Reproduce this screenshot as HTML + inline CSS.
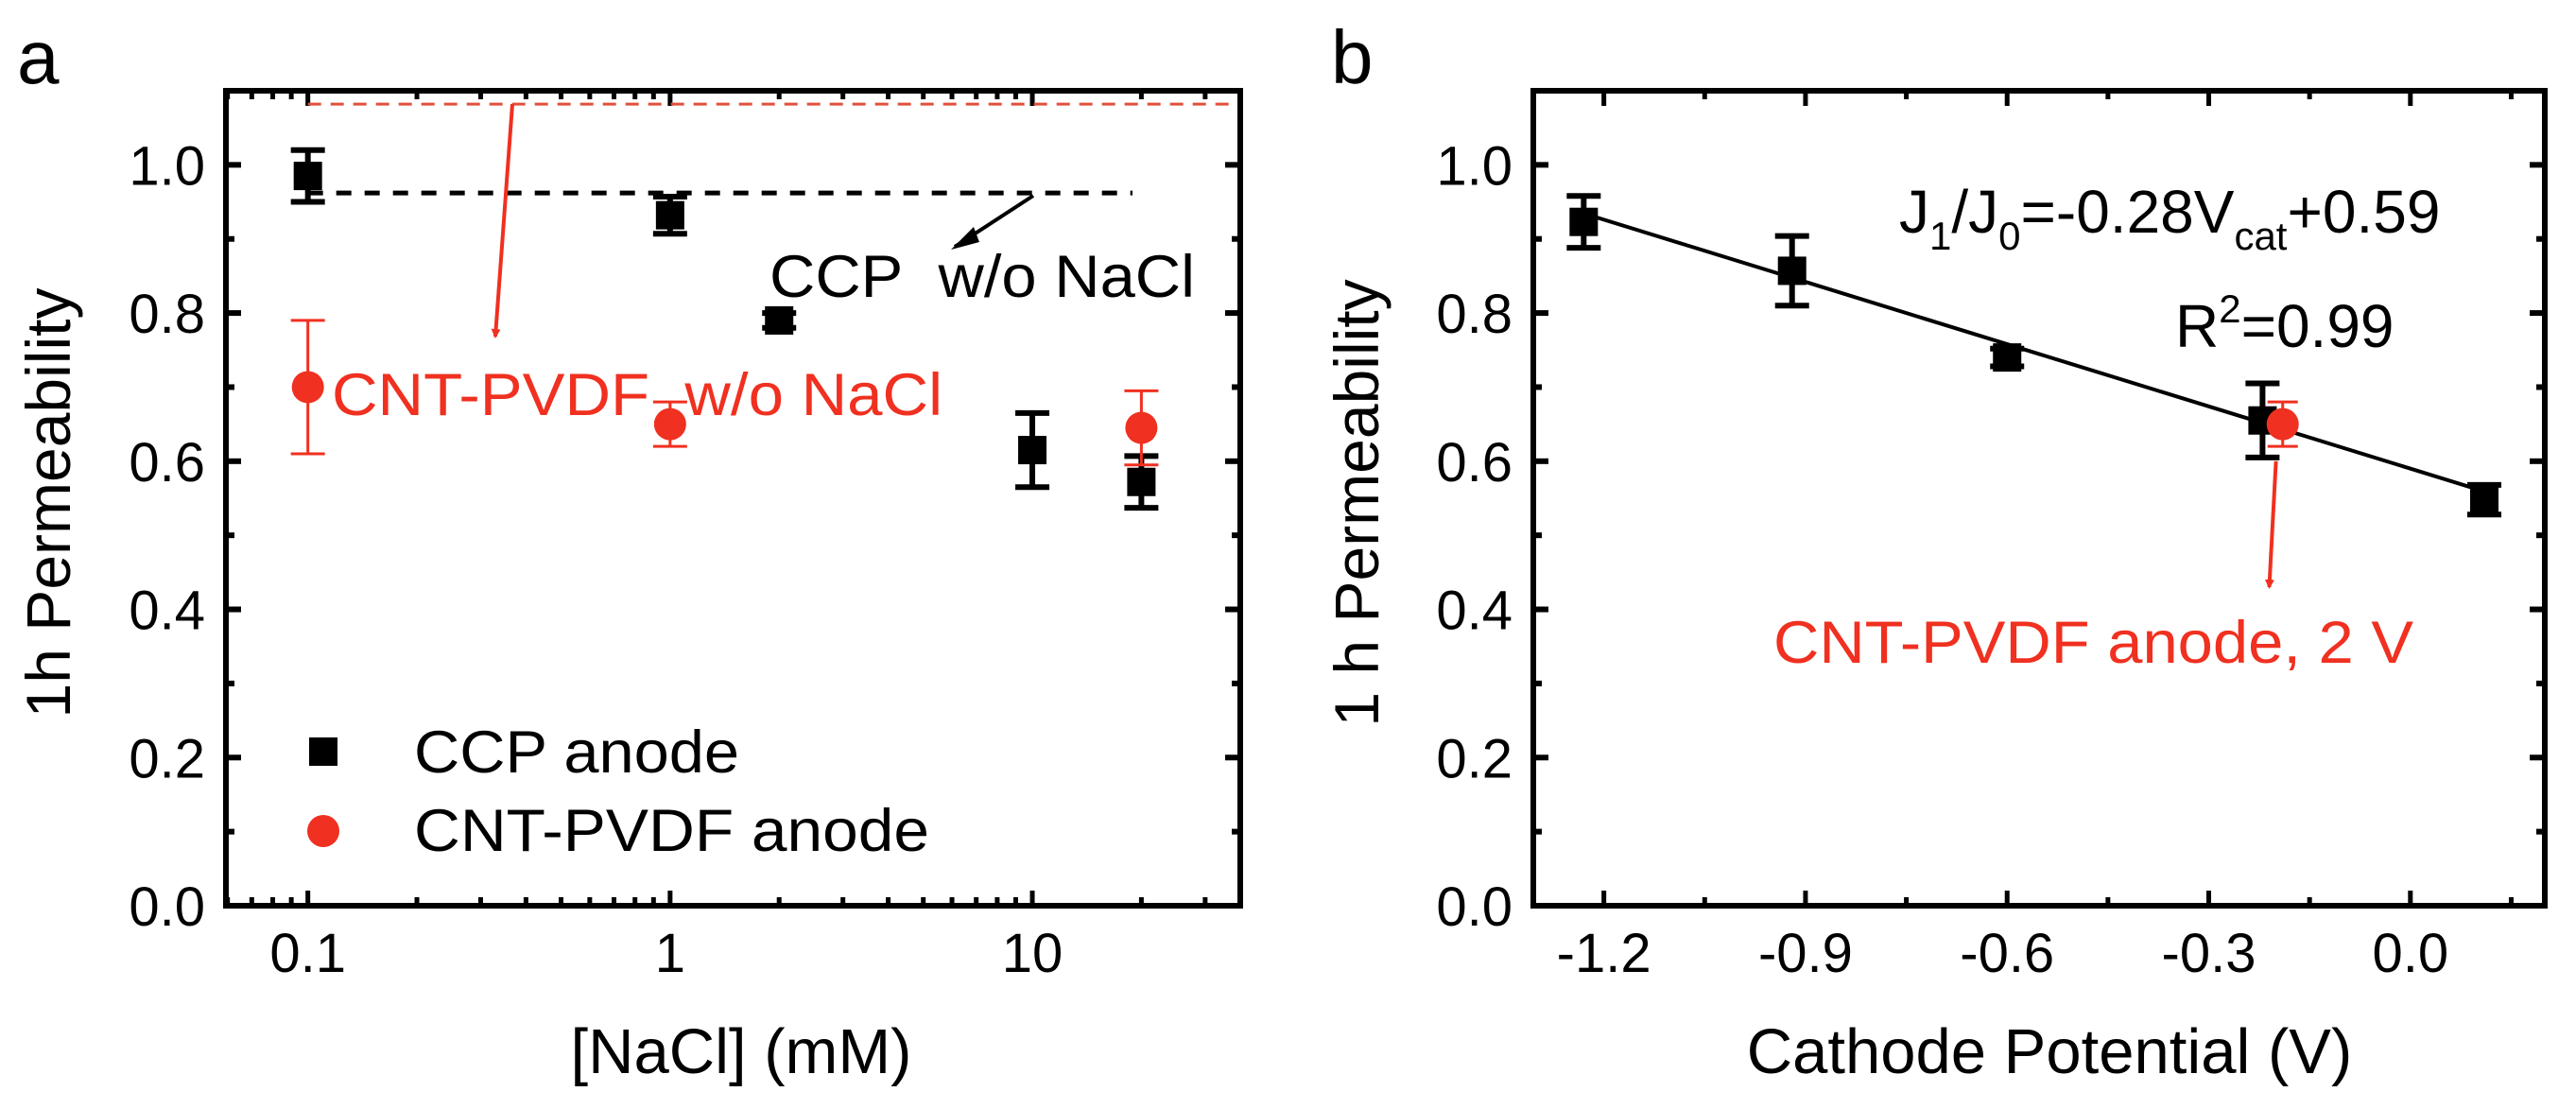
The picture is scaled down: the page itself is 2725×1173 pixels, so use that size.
<!DOCTYPE html>
<html><head><meta charset="utf-8"><style>
html,body{margin:0;padding:0;background:#fff;}
svg{display:block;font-family:"Liberation Sans",Arial,sans-serif;}
</style></head><body>
<svg id="fig" width="2725" height="1173" viewBox="0 0 2725 1173" xmlns="http://www.w3.org/2000/svg">
<defs>
<marker id="arrR" markerWidth="10" markerHeight="10" refX="8" refY="5" orient="auto" markerUnits="userSpaceOnUse" viewBox="0 0 10 10"><path d="M0,0 L10,5 L0,10 z" fill="#f03020"/></marker>
</defs>
<text x="18" y="88" font-size="80">a</text>
<text x="1408" y="88" font-size="80">b</text>
</svg>
<script>
// Panel a data
const aCcpX=[0.1,1,2,10,20];
const aCcpY=[0.985,0.932,0.79,0.615,0.572];
const aCcpErr=[0.035,0.025,0.01,0.05,0.035];
const aCntX=[0.1,1,20];
const aCntY=[0.70,0.65,0.645];
const aCntErr=[0.09,0.03,0.05];
const aXTicks=[0.1,1,10];
const aXTickLabels=["0.1","1","10"];
const yTicks=[0,0.2,0.4,0.6,0.8,1.0];
const yTickLabels=["0.0","0.2","0.4","0.6","0.8","1.0"];
const aCcpRef=0.962;
const aCntRef=1.082;
// Panel b data
const bCcpX=[-1.23,-0.92,-0.60,-0.22,0.11];
const bCcpY=[0.923,0.857,0.74,0.655,0.548];
const bCcpErr=[0.035,0.047,0.012,0.05,0.02];
const bCntX=[-0.19];
const bCntY=[0.65];
const bCntErr=[0.03];
const bXTicks=[-1.2,-0.9,-0.6,-0.3,0.0];
const bXTickLabels=["-1.2","-0.9","-0.6","-0.3","0.0"];
const fitSlope=-0.28, fitIntercept=0.59;
const fitRange=[-1.23,0.11];

const NS="http://www.w3.org/2000/svg";
const svg=document.getElementById('fig');
function el(tag,attrs,parent){const e=document.createElementNS(NS,tag);for(const k in attrs)e.setAttribute(k,attrs[k]);(parent||svg).appendChild(e);return e;}
const RED="#f03020";
const Y0=958,Y1=96,YMAX=1.1;
function sy(v){return Y0-(v/YMAX)*(Y0-Y1);}

const aL=239,aR=1312;
const aLogMin=Math.log10(0.0594),aLogMax=Math.log10(37.5);
function sxa(v){return aL+(Math.log10(v)-aLogMin)/(aLogMax-aLogMin)*(aR-aL);}
const bL=1622,bR=2692,bMin=-1.305,bMax=0.2;
function sxb(v){return bL+(v-bMin)/(bMax-bMin)*(bR-bL);}

function frame(L,R,name){
  const r=el('rect',{x:L,y:Y1,width:R-L,height:Y0-Y1,fill:'none',stroke:'#000','stroke-width':6});
  
  
}
function text(x,y,s,size,name,extra){
  const t=el('text',Object.assign({x:x,y:y,'font-size':size},extra||{}));
  t.textContent=s;
  
  
  return t;
}
function yAxis(L,R,prefix){
  for(let i=0;i<=11;i++){
    const v=i*0.1,y=sy(v),len=(i%2===0)?16:9;
    const t1=el('line',{x1:L,x2:L+len,y1:y,y2:y,stroke:'#000','stroke-width':6});
    
    
    const t2=el('line',{x1:R,x2:R-len,y1:y,y2:y,stroke:'#000','stroke-width':6});
    
    
  }
  yTicks.forEach((v,i)=>text(L-22,sy(v)+21,yTickLabels[i],58,prefix+'-y-tick-label',{'text-anchor':'end'}));
}
function errBar(x,y,e,color,w,sw){
  const g=el('g',{stroke:color,'stroke-width':sw});
  
  
  el('line',{x1:x,x2:x,y1:sy(y-e),y2:sy(y+e)},g);
  el('line',{x1:x-w,x2:x+w,y1:sy(y-e),y2:sy(y-e)},g);
  el('line',{x1:x-w,x2:x+w,y1:sy(y+e),y2:sy(y+e)},g);
}
function square(x,y,name){
  const r=el('rect',{x:x-15,y:y-15,width:30,height:30,fill:'#000'});
  
  
}
function circle(x,y,name){
  const c=el('circle',{cx:x,cy:y,r:17,fill:RED});
  
  
}

// ---------- Panel a ----------
frame(aL,aR,'plot-frame-a');
yAxis(aL,aR,'a');
for(let d=-2;d<=1;d++){for(let m=1;m<=9;m++){
  const v=m*Math.pow(10,d);
  if(v<0.0594||v>37.5)continue;
  const x=sxa(v),len=(m===1)?16:9;
  const t=el('line',{x1:x,x2:x,y1:Y0,y2:Y0-len,stroke:'#000','stroke-width':5});
  
  
  const t2=el('line',{x1:x,x2:x,y1:Y1,y2:Y1+len,stroke:'#000','stroke-width':5});
  
  
}}
aXTicks.forEach((v,i)=>text(sxa(v),1028,aXTickLabels[i],58,'a-x-tick-label',{'text-anchor':'middle'}));
text(784,1135,'[NaCl] (mM)',67,'a-x-axis-title',{'text-anchor':'middle'});
text(74,532,'1h Permeability',66,'a-y-axis-title',{'text-anchor':'middle',transform:'rotate(-90 74 532)'});

let l=el('line',{x1:sxa(0.1),x2:aR-3,y1:sy(aCntRef),y2:sy(aCntRef),stroke:'#e0503c','stroke-width':3,'stroke-dasharray':'14 10'});


l=el('line',{x1:sxa(0.1),x2:1198,y1:sy(aCcpRef),y2:sy(aCcpRef),stroke:'#000','stroke-width':5,'stroke-dasharray':'16 14'});


l=el('line',{x1:542,y1:sy(aCntRef),x2:524,y2:356,stroke:RED,'stroke-width':4,'marker-end':'url(#arrR)'});


l=el('line',{x1:1093,y1:207,x2:1010,y2:261,stroke:'#000','stroke-width':4});


l=el('path',{d:'M1006,264 L1030,240 L1036,256 z',fill:'#000'});



aCcpX.forEach((x,i)=>{errBar(sxa(x),aCcpY[i],aCcpErr[i],'#000',18,6);});
aCcpX.forEach((x,i)=>square(sxa(x),sy(aCcpY[i]),'ccp-point-a'));
aCntX.forEach((x,i)=>{errBar(sxa(x),aCntY[i],aCntErr[i],RED,18,3);});
aCntX.forEach((x,i)=>circle(sxa(x),sy(aCntY[i]),'cnt-point-a'));

text(814,314,'CCP\u00a0\u00a0w/o NaCl',63,'ccp-annotation',{textLength:450,lengthAdjust:'spacingAndGlyphs'});
text(351,439,'CNT-PVDF\u00a0\u00a0w/o NaCl',63,'cnt-annotation',{fill:RED,textLength:646,lengthAdjust:'spacingAndGlyphs'});
square(342,795,'legend-ccp-marker');
text(438,817,'CCP anode',63,'legend-ccp-label',{textLength:344,lengthAdjust:'spacingAndGlyphs'});
circle(342,879,'legend-cnt-marker');
text(438,900,'CNT-PVDF anode',63,'legend-cnt-label',{textLength:545,lengthAdjust:'spacingAndGlyphs'});

// ---------- Panel b ----------
frame(bL,bR,'plot-frame-b');
yAxis(bL,bR,'b');
for(let i=-8;i<=1;i++){
  const v=i*0.15;
  if(v<bMin||v>bMax)continue;
  const x=sxb(v),len=(i%2===0)?16:9;
  const t=el('line',{x1:x,x2:x,y1:Y0,y2:Y0-len,stroke:'#000','stroke-width':5});
  
  
  const t2=el('line',{x1:x,x2:x,y1:Y1,y2:Y1+len,stroke:'#000','stroke-width':5});
  
  
}
bXTicks.forEach((v,i)=>text(sxb(v),1028,bXTickLabels[i],58,'b-x-tick-label',{'text-anchor':'middle'}));
text(2168,1135,'Cathode Potential (V)',67,'b-x-axis-title',{'text-anchor':'middle'});
text(1458,532,'1 h Permeability',66,'b-y-axis-title',{'text-anchor':'middle',transform:'rotate(-90 1458 532)'});

l=el('line',{x1:sxb(fitRange[0]),y1:sy(fitSlope*fitRange[0]+fitIntercept),x2:sxb(fitRange[1]),y2:sy(fitSlope*fitRange[1]+fitIntercept),stroke:'#000','stroke-width':4});


bCcpX.forEach((x,i)=>{errBar(sxb(x),bCcpY[i],bCcpErr[i],'#000',18,6);});
bCcpX.forEach((x,i)=>square(sxb(x),sy(bCcpY[i]),'ccp-point-b'));
bCntX.forEach((x,i)=>{errBar(sxb(x),bCntY[i],bCntErr[i],RED,16,3);});
bCntX.forEach((x,i)=>circle(sxb(x),sy(bCntY[i]),'cnt-point-b'));
l=el('line',{x1:sxb(-0.2),y1:sy(0.6),x2:sxb(-0.21),y2:sy(0.43),stroke:RED,'stroke-width':4,'marker-end':'url(#arrR)'});


text(1876,701,'CNT-PVDF anode, 2 V',63,'cnt-2v-annotation',{fill:RED,textLength:677,lengthAdjust:'spacingAndGlyphs'});
const eq=text(2009,246,'',64,'fit-equation');
eq.innerHTML='J<tspan font-size="42" dy="18">1</tspan><tspan dy="-18">/J</tspan><tspan font-size="42" dy="18">0</tspan><tspan dy="-18">=-0.28V</tspan><tspan font-size="42" dy="18">cat</tspan><tspan dy="-18">+0.59</tspan>';
const r2=text(2301,367,'',64,'r-squared');
r2.innerHTML='R<tspan font-size="42" dy="-26">2</tspan><tspan dy="26">=0.99</tspan>';
</script>
</body></html>
